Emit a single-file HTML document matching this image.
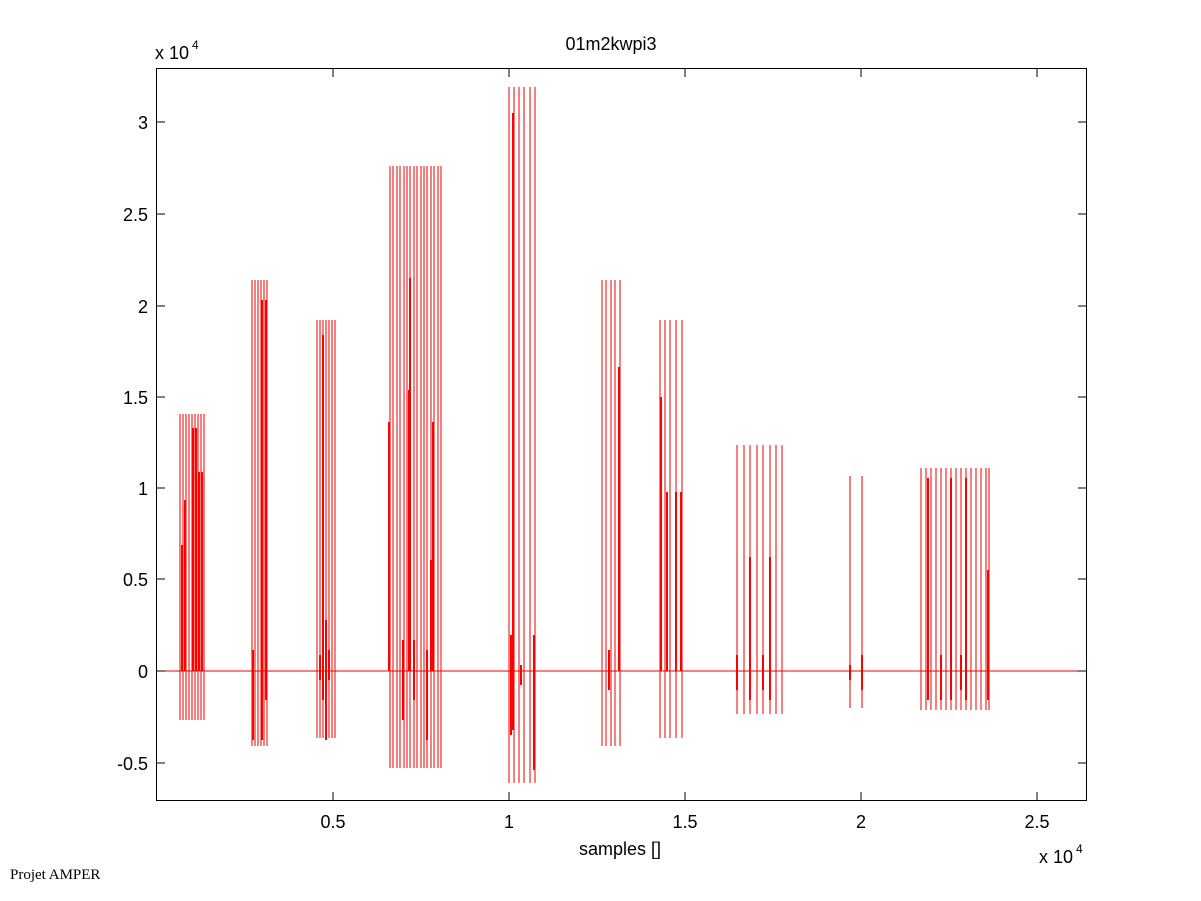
<!DOCTYPE html>
<html><head><meta charset="utf-8"><style>
body{margin:0;background:#fff;width:1201px;height:901px;overflow:hidden}
svg{display:block}
text{font-family:"Liberation Sans",sans-serif;font-size:18px;fill:#000}
</style></head><body>
<svg width="1201" height="901" viewBox="0 0 1201 901">
<rect x="0" y="0" width="1201" height="901" fill="#fff"/>
<g stroke="#e00" stroke-width="1" fill="none" shape-rendering="crispEdges">
<path d="M180 414V720M183 414V720M186 414V720M189 414V720M192 414V720M195 414V720M198 414V720M201 414V720M204 414V720"/>
<path d="M252 280V746M255 280V746M258 280V746M261 280V746M264 280V746M267 280V746"/>
<path d="M317 320V738M320 320V738M323 320V738M326 320V738M329 320V738M332 320V738M335 320V738"/>
<path d="M390 166V768M393 166V768M397 166V768M400 166V768M404 166V768M407 166V768M410 166V768M414 166V768M417 166V768M421 166V768M424 166V768M427 166V768M431 166V768M434 166V768M438 166V768M441 166V768"/>
<path d="M509 87V783M514 87V783M519 87V783M524 87V783M530 87V783M535 87V783"/>
<path d="M602 280V746M606 280V746M611 280V746M615 280V746M620 280V746"/>
<path d="M660 320V738M665 320V738M670 320V738M676 320V738M682 320V738"/>
<path d="M737 445V714M744 445V714M750 445V714M757 445V714M763 445V714M770 445V714M776 445V714M782 445V714"/>
<path d="M850 476V708M862 476V708"/>
<path d="M921 468V710M926 468V710M931 468V710M936 468V710M941 468V710M946 468V710M951 468V710M956 468V710M961 468V710M966 468V710M971 468V710M976 468V710M981 468V710M986 468V710M989 468V710"/>
</g>
<g stroke="#f00" stroke-width="2" fill="none" shape-rendering="crispEdges">
<path d="M182 545V671M185 500V671M193 428V671M196 428V671M199 472V671M202 472V671"/>
<path d="M262 300V740M266 300V700M253 650V740"/>
<path d="M323 335V700M326 620V740M320 655V680M329 650V680"/>
<path d="M389 422V671M410 278V671M409 390V671M433 422V671M431 560V671M403 640V720M414 640V700M427 650V740"/>
<path d="M513 113V730M511 635V735M534 635V770M521 665V685"/>
<path d="M619 367V671M609 650V690"/>
<path d="M661 397V671M667 492V671M676 492V671M681 492V671"/>
<path d="M750 557V700M770 557V700M737 655V690M763 655V690"/>
<path d="M928 478V700M951 478V700M966 478V700M988 570V700M941 655V700M961 655V690"/>
<path d="M850 665V680M862 655V690"/>
</g>
<line x1="156" y1="671" x2="1087" y2="671" stroke="#e00" stroke-width="1" shape-rendering="crispEdges"/>
<rect x="156.5" y="68.5" width="930" height="732" fill="none" stroke="#000" stroke-width="1"/>
<g stroke="#000" stroke-width="1" shape-rendering="crispEdges">
<path d="M156 122h9M1087 122h-9M156 214h9M1087 214h-9M156 306h9M1087 306h-9M156 397h9M1087 397h-9M156 488h9M1087 488h-9M156 579h9M1087 579h-9M156 671h9M1087 671h-9M156 763h9M1087 763h-9"/>
<path d="M333 801v-9M333 68v9M509 801v-9M509 68v9M685 801v-9M685 68v9M861 801v-9M861 68v9M1037 801v-9M1037 68v9"/>
</g>
<g text-anchor="end">
<text x="148" y="129">3</text><text x="148" y="221">2.5</text><text x="148" y="313">2</text>
<text x="148" y="404">1.5</text><text x="148" y="495">1</text><text x="148" y="586">0.5</text>
<text x="148" y="678">0</text><text x="148" y="770">-0.5</text>
</g>
<g text-anchor="middle">
<text x="333" y="828">0.5</text><text x="509" y="828">1</text><text x="685" y="828">1.5</text>
<text x="861" y="828">2</text><text x="1037" y="828">2.5</text>
<text x="620" y="855">samples []</text>
<text x="611" y="50">01m2kwpi3</text>
</g>
<text x="155" y="59">x 10</text><text x="192" y="49" style="font-size:12px">4</text>
<text x="1039" y="863">x 10</text><text x="1076" y="853" style="font-size:12px">4</text>
<text x="10" y="879" style="font-family:'Liberation Serif',serif;font-size:15px">Projet AMPER</text>
</svg>
</body></html>
